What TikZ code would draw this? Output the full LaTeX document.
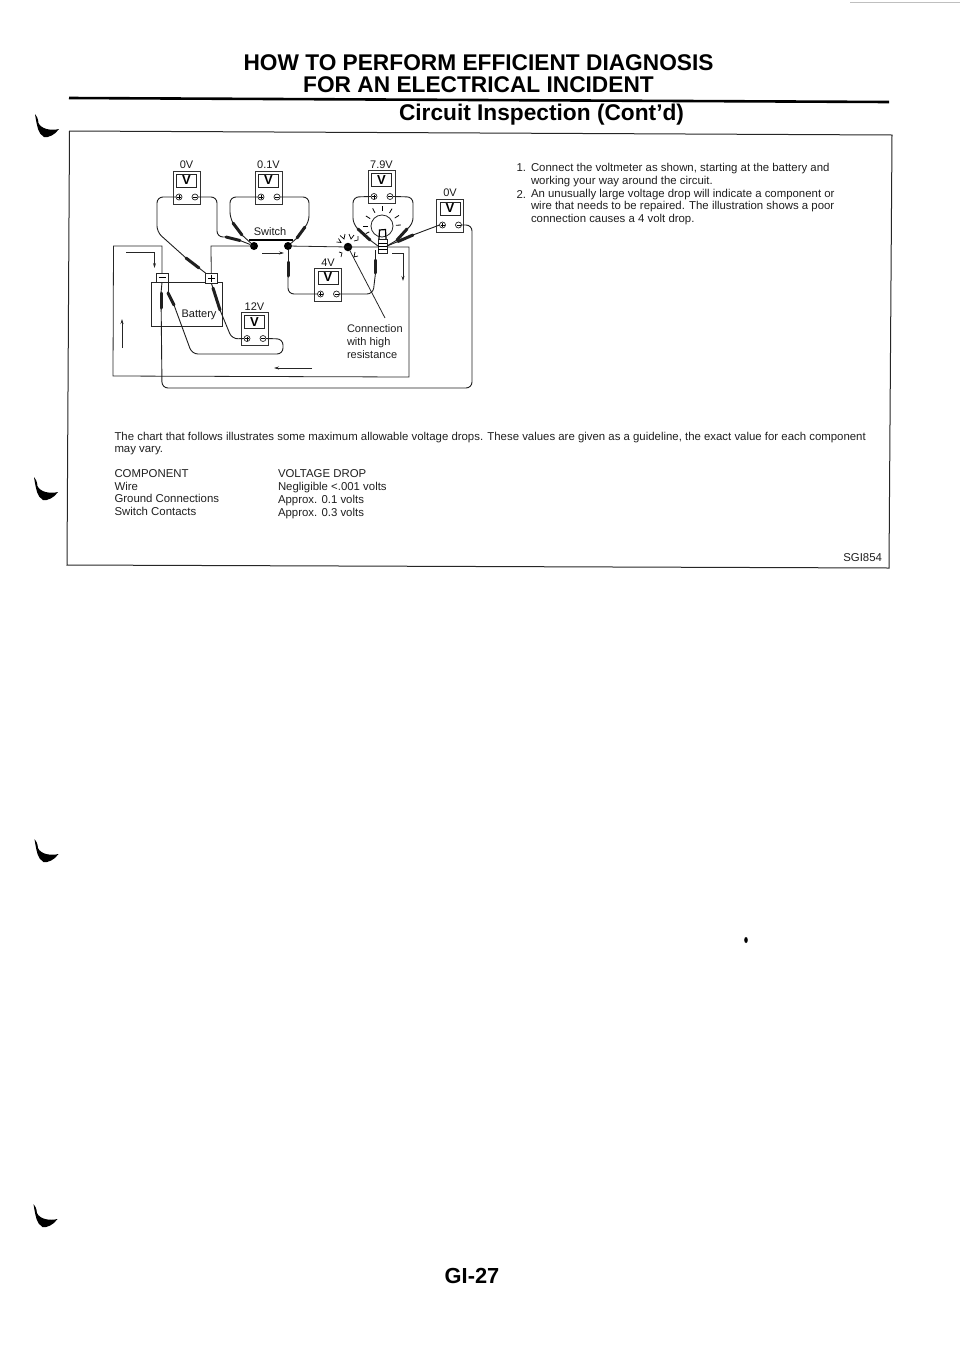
\documentclass[tikz,border=0pt]{standalone}
\usepackage{fontspec}
\setmainfont{Liberation Sans}
\usetikzlibrary{arrows.meta,calc}
\tikzset{
  every node/.style={inner sep=0pt,outer sep=0pt},
  wire/.style={line width=0.9pt,rounded corners=6pt,black!88},
  probe/.style={line width=3pt,black!88,line cap=round},
  thinl/.style={line width=0.8pt,black!85},
  frameline/.style={line width=1pt,black!85},
  flow/.style={line width=0.7pt,black!85,-{Stealth[length=5pt,width=3pt]}},
  head/.style={font=\fontsize{22.7}{22.7}\selectfont\bfseries,anchor=center},
  body/.style={font=\fontsize{11.4}{12.7}\selectfont,anchor=north west,align=left,black!88},
  lab/.style={font=\fontsize{11}{13}\selectfont,black!90},
  vmbox/.style={draw=black!80,line width=0.8pt,minimum width=27pt,minimum height=33pt,fill=white},
  vminner/.style={draw=black!85,line width=0.9pt,minimum width=20pt,minimum height=13pt,font=\fontsize{13}{13}\selectfont\bfseries},
  vmterm/.style={draw=black!85,circle,line width=0.7pt,minimum size=6pt},
  term/.style={draw=black!85,line width=0.8pt,fill=white},
  dot/.style={circle,fill=black,minimum size=8pt},
  crescent/.style={fill=black,draw=none}
}
% name, left x, top y, label
\newcommand{\voltm}[4]{%
  \node[vmbox,anchor=north west] (#1) at (#2,#3) {};
  \node[vminner] (#1v) at ($(#1.north)+(0,9.5)$) {V};
  \node[vmterm] (#1p) at ($(#1.north west)+(6,26)$) {};
  \node[vmterm] (#1m) at ($(#1.north west)+(22,26)$) {};
  \draw[line width=0.6pt] ($(#1p)+(-2,0)$) -- ($(#1p)+(2,0)$) ($(#1p)+(0,-2)$) -- ($(#1p)+(0,2)$);
  \draw[line width=0.6pt] ($(#1m)+(-2,0)$) -- ($(#1m)+(2,0)$);
  \node[lab,anchor=south] (#1l) at ($(#1.north)+(0,-2)$) {#4};
}
\newcommand{\crescentmark}[3]{%
  \fill[crescent,shift={(#2,#3)}] (0,0) .. controls (1.5,1.5) and (3,4) .. (3.5,9)
    .. controls (6,15) and (16,17) .. (24,15)
    .. controls (20,21) and (13,24) .. (9,23)
    .. controls (3,20) and (2,11) .. (1,6) -- cycle;
  \coordinate (#1) at (#2,#3);
}
\begin{document}
\begin{tikzpicture}[x=1pt,y=-1pt]
\useasboundingbox (0,0) rectangle (960,1358);

% heading
\node[head] (t1) at (478.5,62.5) {HOW TO PERFORM EFFICIENT DIAGNOSIS};
\node[head] (t2) at (478.5,85) {FOR AN ELECTRICAL INCIDENT};
\node[head] (t3) at (541.5,115) {Circuit Inspection (Cont’d)};
\coordinate (ruleL) at (69,98);
\coordinate (ruleR) at (889,102);
\draw[line width=2.6pt] (ruleL) -- (ruleR);

% frame
\coordinate (fa) at (69.5,131);
\coordinate (fb) at (892,135);
\coordinate (fc) at (889,568);
\coordinate (fd) at (67,565);
\draw[frameline] (fa) -- (fb) -- (fc) -- (fd) -- cycle;

% crescents
\crescentmark{c1}{35}{114}
\crescentmark{c2}{34}{477}
\crescentmark{c3}{34.5}{839}
\crescentmark{c4}{33.5}{1204}
\fill (746,940) ellipse (1.8pt and 3pt);
\draw[black!25,line width=0.5pt] (850,2) -- (960,2);

% circuit loop
\coordinate (loopTL) at (113.5,246);
\coordinate (loopBL) at (113,376);
\coordinate (loopBR) at (409,377);
\coordinate (loopTR) at (409,247);

% battery
\node[term,minimum width=71pt,minimum height=44pt,anchor=north west] (bat) at (151,282) {};
\node[term,minimum width=12pt,minimum height=9.5pt,anchor=north west] (tneg) at (156,273) {};
\node[term,minimum width=11.5pt,minimum height=10pt,anchor=north west] (tpos) at (205.5,273) {};
\draw[line width=0.8pt] (158.5,277.5) -- (165.5,277.5) (208,278) -- (215,278) (211.5,274.5) -- (211.5,281.5);
\node[lab,anchor=center] (batl) at (199,314.5) {Battery};

% switch
\node[dot] (swL) at (254,246) {};
\node[dot] (swR) at (288,246) {};
\coordinate (swbL) at (249,240);
\coordinate (swbR) at (293,240);
\draw[line width=2.2pt] (swbL) -- (swbR);
\node[lab,anchor=center] (swl) at (270,232) {Switch};

% bulb
\node[draw=black!85,circle,line width=0.8pt,minimum size=22pt] (bulb) at (382,226) {};
\foreach \a/\ri/\ro in {180/14/19,205/14/18,148/14/19,118/15/20,90/15/20,60/15/20,32/15/20,3/14/19}{
  \draw[line width=0.8pt] ($(bulb)+(\a:\ri pt)$) -- ($(bulb)+(\a:\ro pt)$);
}

% high resistance dot
\node[dot,minimum size=8.5pt] (hr) at (348,247) {};
\coordinate (hrEnd) at (385,318);
\draw[thinl] (hr) -- (hrEnd);
\draw[line width=0.7pt] (336.5,242) -- (341,242.5) -- (338.5,238.5)
  (340,235.5) -- (344,239) -- (345,234)
  (349,234) -- (351,239) -- (354,235)
  (354,241) -- (358,240) -- (358,236);
\draw[line width=0.7pt] (339,252) -- (342,253) -- (341,257);
\draw[line width=0.7pt] (355,252) -- (354,257) -- (358,256);

% bulb base (over the leads' ends)
\node[term,minimum width=9pt,minimum height=14pt,anchor=north] (bbase) at (382.5,239) {};

% main loop wires
\draw[thinl] (tpos.north) -- (211,246) -- (swL.center);
\draw[thinl] (tneg.north) -- (162,246) -- (loopTL) -- (loopBL) -- (loopBR) -- (loopTR) -- (bbase.east |- loopTR);
\draw[thinl] (swR.center) -- (hr.center) -- (bbase.west |- loopTR);

% flow arrows
\coordinate (fa1s) at (126,252); \coordinate (fa1m) at (154.5,252); \coordinate (fa1e) at (154.5,268);
\draw[flow] (fa1s) -- (fa1m) -- (fa1e);
\coordinate (fa2s) at (122,348); \coordinate (fa2e) at (122,319);
\draw[flow] (fa2s) -- (fa2e);
\coordinate (fa3s) at (262,253); \coordinate (fa3e) at (284,253);
\draw[flow] (fa3s) -- (fa3e);
\coordinate (fa4s) at (392,253); \coordinate (fa4m) at (403,253); \coordinate (fa4e) at (403,281);
\draw[flow] (fa4s) -- (fa4m) -- (fa4e);
\coordinate (fa5s) at (312,368); \coordinate (fa5e) at (274,368);
\draw[flow] (fa5s) -- (fa5e);

% voltmeters
\voltm{mA}{173}{171}{0V}
\voltm{mB}{255}{171}{0.1V}
\voltm{mC}{368}{170.5}{7.9V}
\voltm{mD}{436.5}{199}{0V}
\voltm{mE}{314.5}{268}{4V}
\voltm{mF}{241}{312.5}{12V}

% voltmeter leads
% A
\draw[wire] (mAp.west) -- (157,197) -- (157,232) -- (186,258);
\draw[probe] (186,258) -- (199,268);
\draw[wire] (199,268) -- (tpos.north west);
\draw[wire] (mAm.east) -- (217,197) -- (217,237) -- (226,237);
\draw[probe] (226,237) -- (240,240.5);
\draw[wire] (240,240.5) -- (swL);
% B
\draw[wire] (mBp.west) -- (230,197) -- (230,218) -- (233,223);
\draw[probe] (233,223) -- (242,235);
\draw[wire] (242,235) -- (swL);
\draw[wire] (mBm.east) -- (309,197) -- (309,222) -- (305,227);
\draw[probe] (305,227) -- (297,238);
\draw[wire] (297,238) -- (swR);
% C
\draw[wire] (mCp.west) -- (353,197) -- (353,224) -- (358,229);
\draw[probe] (358,229) -- (370,240);
\draw[wire] (370,240) -- (bbase.west);
\draw[wire] (mCm.east) -- (413,197) -- (413,224) -- (407,229);
\draw[probe] (407,229) -- (397,240);
\draw[wire] (397,240) -- (bbase.east);
% D
\draw[wire] (mDp.west) -- (413,235);
\draw[probe] (413,235) -- (398,241.5);
\draw[wire] (398,241.5) -- (bbase.east);
\draw[wire] (mDm.east) -- (472,225) -- (472,388) -- (162,388) -- (161,293);
\draw[probe] (161,293) -- (161,308);
\draw[wire] (161,293) -- (tneg.south);
% E
\draw[wire] (swR) -- (288,262);
\draw[probe] (288,262) -- (288,276);
\draw[wire] (288,276) -- (288,294) -- (mEp.west);
\draw[wire] (375.5,250) -- (375.5,260);
\draw[probe] (375.5,260) -- (375.5,273);
\draw[wire] (375.5,273) -- (373,294) -- (mEm.east);
% F
\draw[wire] (mFp.west) -- (232,339) -- (220,310);
\draw[probe] (220,310) -- (213,288);
\draw[wire] (213,288) -- (tpos.south);
\draw[wire] (mFm.east) -- (283,339) -- (283,354) -- (192,354) -- (174,305);
\draw[probe] (174,305) -- (168,293);
\draw[wire] (168,293) -- (tneg.south east);

% bulb details
\draw[line width=0.7pt] (378,243) -- (387,243) (378,246) -- (387,246) (378,249) -- (387,249);
\draw[line width=1.2pt] (379,239) -- (379.5,230) -- (385.5,229.5) -- (386,239);

% labels
\node[body,font=\fontsize{11}{13}\selectfont] (conn) at (347,324.5) {Connection\\with high\\resistance};

% text
\node[body,anchor=north west] (note1n) at (516.5,164) {1.};
\node[body] (note1) at (531,163.5) {Connect the voltmeter as shown, starting at the battery and\\working your way around the circuit.};
\node[body] (note2n) at (516.5,190.5) {2.};
\node[body] (note2) at (531,189) {An unusually large voltage drop will indicate a component or\\wire that needs to be repaired. The illustration shows a poor\\connection causes a 4 volt drop.};
\node[body] (chart) at (114.5,432) {The chart that follows illustrates some maximum allowable voltage drops. These values are given as a guideline, the exact value for each component\\may vary.};
\node[body] (comp) at (114.5,469.5) {COMPONENT\\Wire\\Ground Connections\\Switch Contacts};
\node[body] (drop) at (278,470) {VOLTAGE DROP\\Negligible <.001 volts\\Approx. 0.1 volts\\Approx. 0.3 volts};
\node[body,anchor=east] (code) at (882,558) {SGI854};
\node[head,font=\fontsize{21.8}{22}\selectfont\bfseries] (page) at (472,1276) {GI-27};
\end{tikzpicture}
\end{document}
